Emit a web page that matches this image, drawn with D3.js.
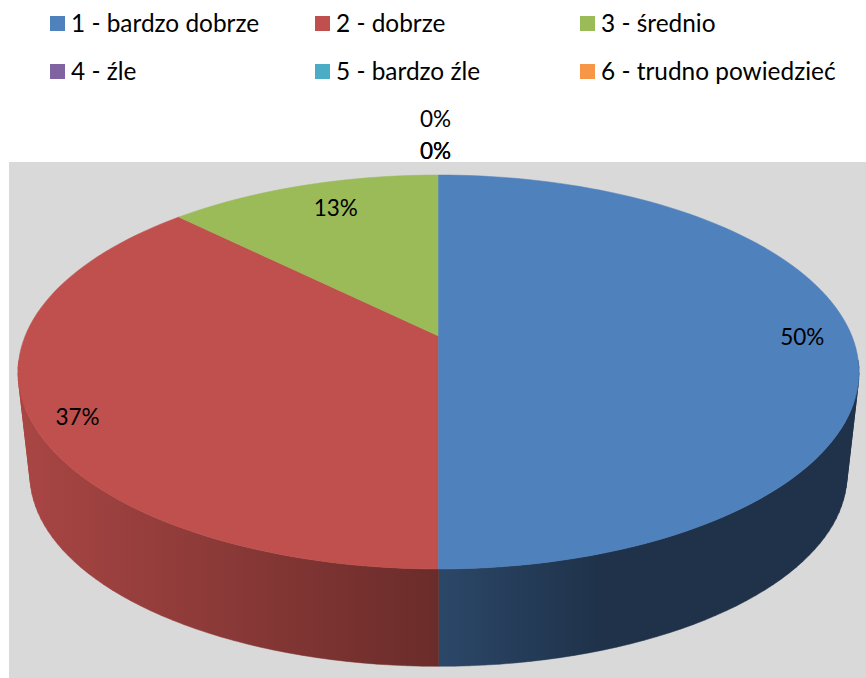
<!DOCTYPE html>
<html><head><meta charset="utf-8">
<script src="https://cdnjs.cloudflare.com/ajax/libs/d3/7.8.5/d3.min.js"></script>
<style>html,body{margin:0;padding:0;background:#fff}svg{display:block}text{font-family:Lato,"Open Sans",sans-serif;fill:#000}</style>
</head><body><script>
const categories = ["1 - bardzo dobrze","2 - dobrze","3 - średnio","4 - źle","5 - bardzo źle","6 - trudno powiedzieć"];
const values = [50, 37.45, 12.55, 0, 0, 0];
const colors = ["#4F81BD","#C0504D","#9BBB59","#8064A2","#4BACC6","#F79646"];

const W=866,H=678;
const svg=d3.select("body").append("svg").attr("width",W).attr("height",H);
svg.append("rect").attr("x",9).attr("y",162).attr("width",W-9).attr("height",H-162).attr("fill","#D9D9D9");

// perspective projection of the pie disc
const cx=438.5, persp=-0.1827, ax=413.4, ay=190.4;
const topDisc={cy:336,s:1}, botDisc={cy:440,s:0.9715};
function project(theta,r,disc){
  const u=r*Math.sin(theta), v=-r*Math.cos(theta), w=1+persp*v;
  return [cx+disc.s*ax*u/w, disc.cy+disc.s*ay*v/w];
}
const pie=d3.pie().sort(null).startAngle(0).endAngle(2*Math.PI)(values);
const step=Math.PI/100;
function samples(a0,a1){
  const n=Math.max(1,Math.ceil((a1-a0)/step)), out=[];
  for(let i=0;i<=n;i++) out.push(a0+(a1-a0)*i/n);
  return out;
}
// horizontal shading of the side wall, one gradient per slice colour
const shadeStops=[[18,0.88],[438,0.55],[600,0.39],[866,0.39]];
const defs=svg.append("defs");
colors.forEach((c,k)=>{
  const g=defs.append("linearGradient").attr("id","wall"+k).attr("gradientUnits","userSpaceOnUse")
    .attr("x1",0).attr("x2",W).attr("y1",0).attr("y2",0);
  shadeStops.forEach(([x,f])=>{
    const b=d3.rgb(c);
    g.append("stop").attr("offset",x/W).attr("stop-color",d3.rgb(b.r*f,b.g*f,b.b*f).formatHex());
  });
});
// side wall: one path per slice, built from strips of equal winding
const wall=svg.append("g");
pie.forEach((d,k)=>{
  if(d.endAngle<=d.startAngle) return;
  const strips=d3.pairs(samples(d.startAngle,d.endAngle))
    .filter(([t0,t1])=>-Math.cos((t0+t1)/2)>=0.12)
    .map(([t0,t1])=>{
      const q=[project(t0,1,topDisc),project(t1,1,topDisc),project(t1,1,botDisc),project(t0,1,botDisc)];
      if(d3.polygonArea(q)<0) q.reverse();
      return d3.line()(q)+"Z";
    });
  if(strips.length) wall.append("path").attr("d",strips.join("")).attr("fill",`url(#wall${k})`)
    .attr("stroke",`url(#wall${k})`).attr("stroke-width",0.5);
});
// top faces
const faces=svg.append("g");
[1,2,0].forEach(k=>{
  const d=pie[k];
  const pts=[[cx,topDisc.cy],...samples(d.startAngle,d.endAngle).map(t=>project(t,1,topDisc))];
  faces.append("path").attr("d",d3.line()(pts)+"Z").attr("fill",colors[k]).attr("stroke",colors[k]).attr("stroke-width",0.5);
});
// data labels
const labelDx=[0,-3,19,-3,-3,-3], labelDy=[1,13,7,-73,-41,-41];
const fmt=d3.format(".0%");
pie.forEach((d,k)=>{
  const mid=(d.startAngle+d.endAngle)/2;
  const p=project(mid,0.88,topDisc);
  svg.append("text").attr("class","label")
    .attr("x",p[0]+labelDx[k]).attr("y",p[1]+labelDy[k]).attr("dy","0.35em")
    .attr("text-anchor","middle").attr("font-size",22.5)
    .text(fmt(d.value/d3.sum(values)));
});
// legend
const colX=[50,315,580], rowY=[16,64];
categories.forEach((c,i)=>{
  const x=colX[i%3], y=rowY[Math.floor(i/3)];
  svg.append("rect").attr("x",x).attr("y",y).attr("width",15).attr("height",15).attr("fill",colors[i]);
  svg.append("text").attr("x",x+21).attr("y",y+15.5).attr("font-size",24.4).text(c);
});
</script></body></html>
